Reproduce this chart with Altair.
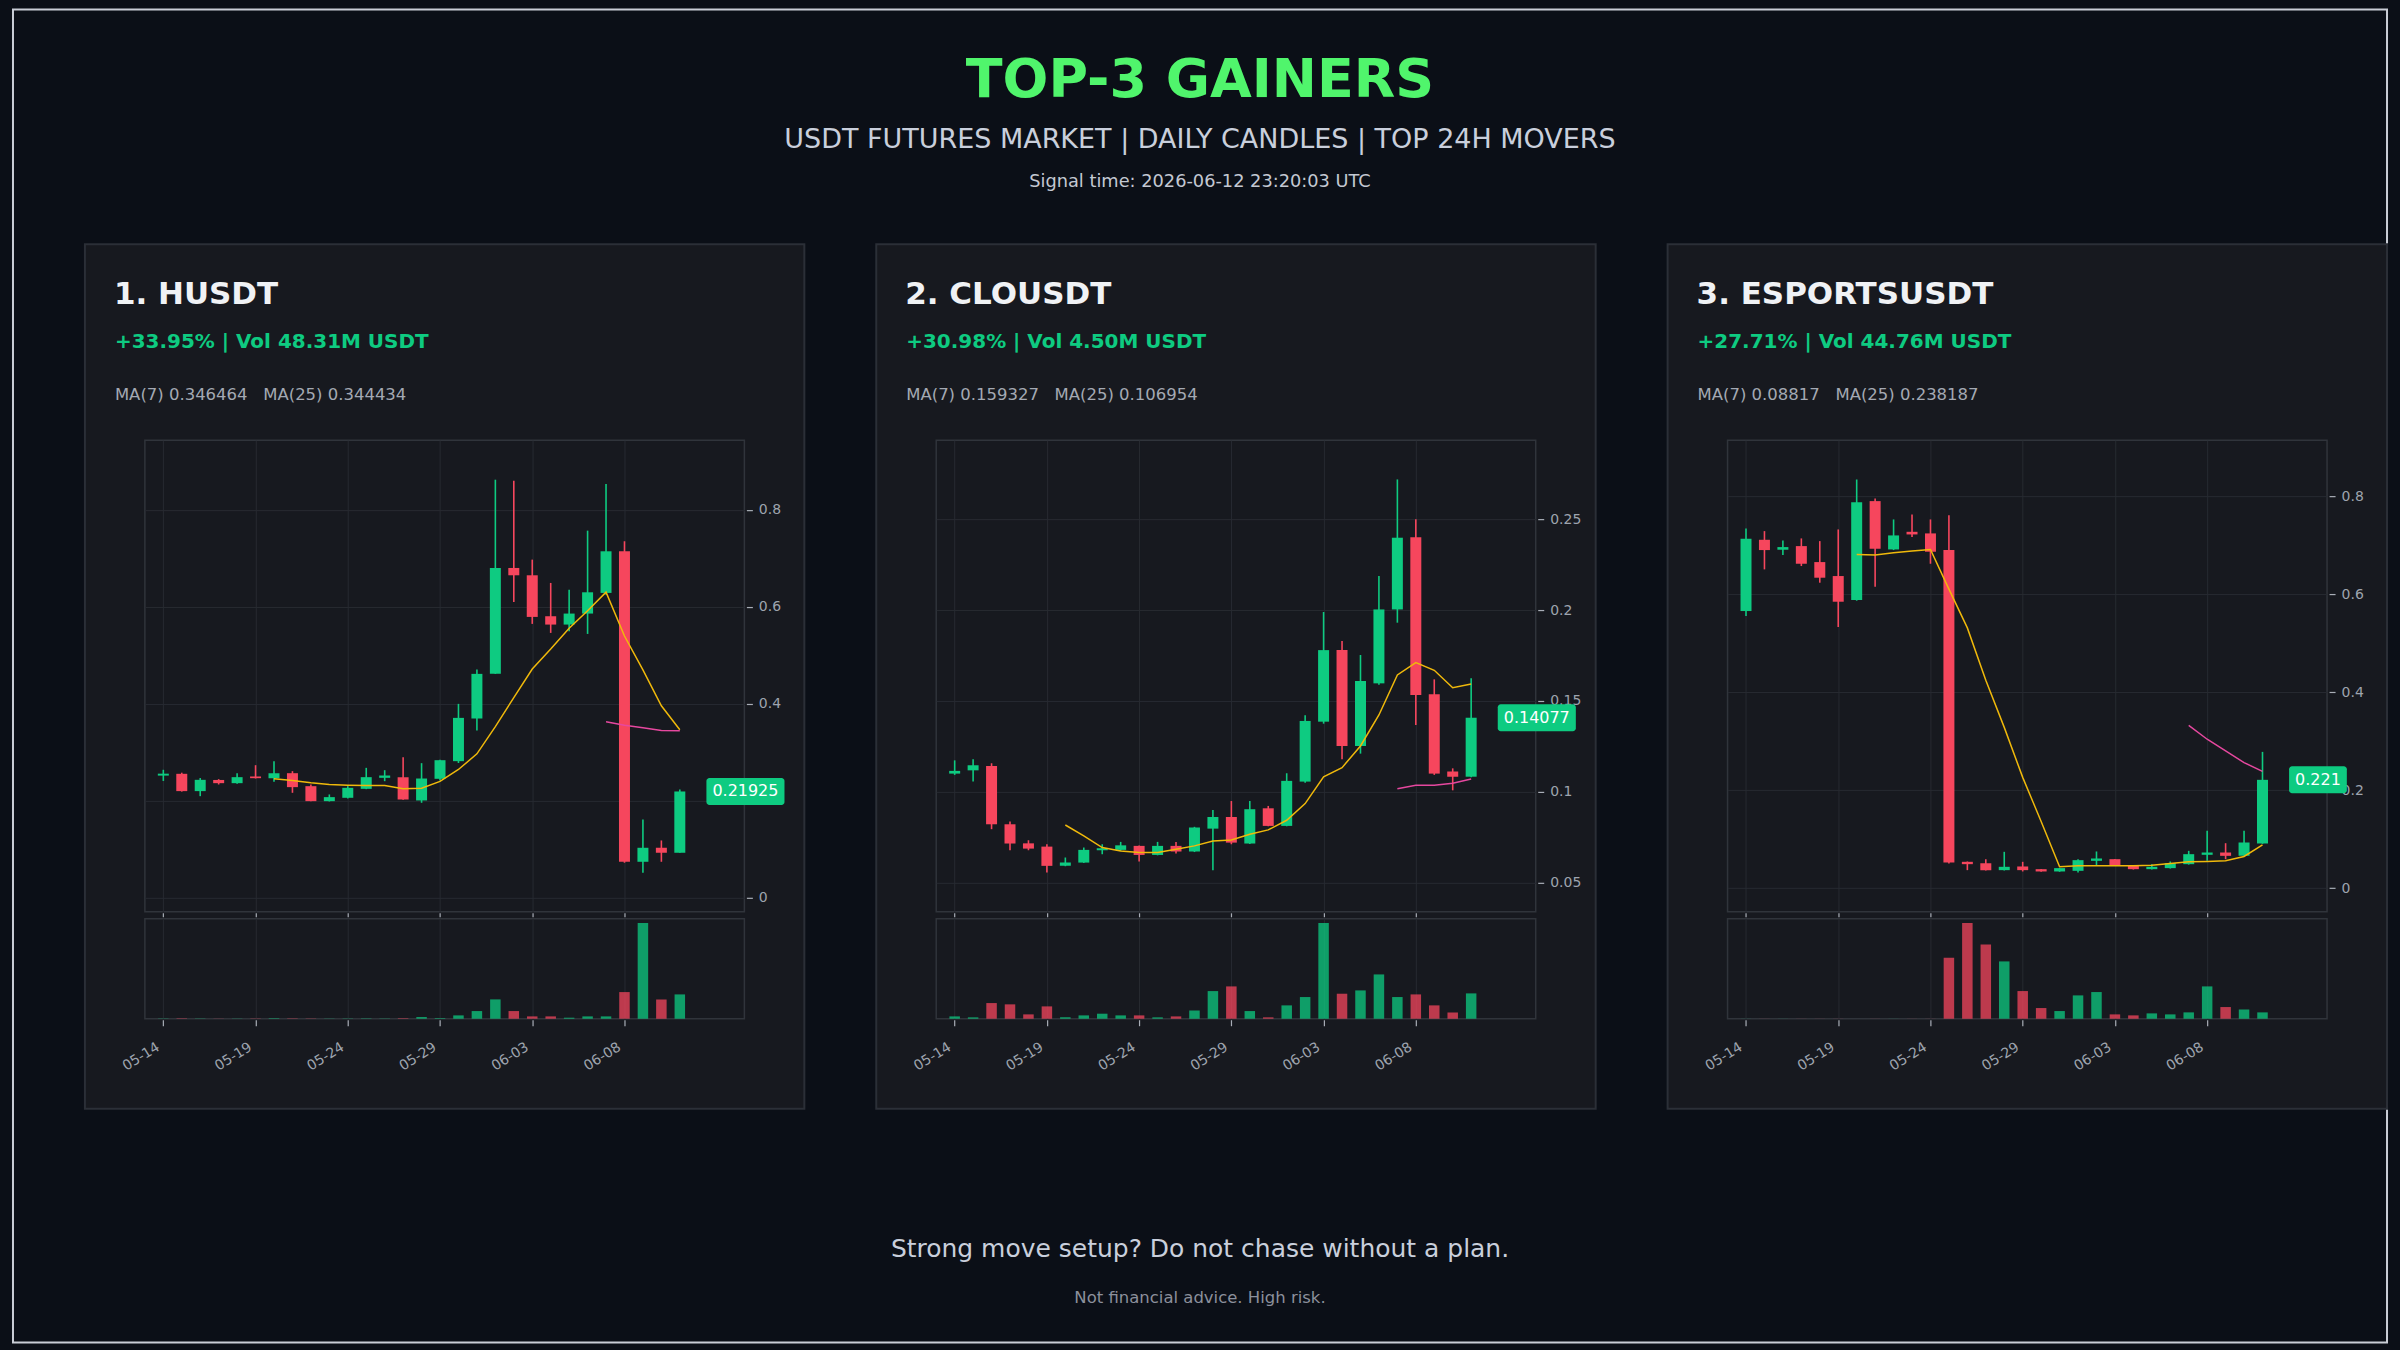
import altair as alt
import pandas as pd

# ---------------------------------------------------------------- data
DATES = ["05-14", "05-15", "05-16", "05-17", "05-18", "05-19", "05-20", "05-21", "05-22", "05-23",
         "05-24", "05-25", "05-26", "05-27", "05-28", "05-29", "05-30", "05-31", "06-01", "06-02",
         "06-03", "06-04", "06-05", "06-06", "06-07", "06-08", "06-09", "06-10", "06-11"]
TICK_IDX = [0, 5, 10, 15, 20, 25]

SYMBOLS = ["1. HUSDT", "2. CLOUSDT", "3. ESPORTSUSDT"]
CHANGES = ["+33.95%", "+30.98%", "+27.71%"]
VOL_24H = ["48.31M", "4.50M", "44.76M"]
MA7_LAST = ["0.346464", "0.159327", "0.08817"]
MA25_LAST = ["0.344434", "0.106954", "0.238187"]
LAST_LABEL = ["0.21925", "0.14077", "0.221"]

TITLE = "TOP-3 GAINERS"
SUBTITLE = "USDT FUTURES MARKET | DAILY CANDLES | TOP 24H MOVERS"
SIGNAL = "Signal time: 2026-06-12 23:20:03 UTC"
FOOTER = "Strong move setup? Do not chase without a plan."
DISCLAIMER = "Not financial advice. High risk."

# HUSDT
H_OPEN = [0.252, 0.2557, 0.220, 0.243, 0.2364, 0.2502, 0.2467, 0.257, 0.2302, 0.1993,
          0.2062, 0.2247, 0.2474, 0.2488, 0.2007, 0.2454, 0.2818, 0.3698, 0.4619, 0.6804,
          0.6653, 0.5808, 0.5636, 0.5863, 0.6289, 0.7148, 0.0742, 0.1031, 0.0928]
H_HIGH = [0.264, 0.258, 0.247, 0.2447, 0.257, 0.2735, 0.2818, 0.2612, 0.2337, 0.2131,
          0.2302, 0.268, 0.2632, 0.290, 0.2777, 0.2845, 0.400, 0.4708, 0.8625, 0.8605,
          0.6976, 0.6495, 0.6357, 0.7574, 0.8536, 0.7354, 0.1615, 0.1182, 0.2234]
H_LOW = [0.241, 0.219, 0.2096, 0.2337, 0.235, 0.246, 0.2392, 0.2165, 0.199, 0.1986,
         0.2048, 0.224, 0.2405, 0.202, 0.1959, 0.242, 0.278, 0.345, 0.4619, 0.6103,
         0.565, 0.5464, 0.5498, 0.5443, 0.625, 0.072, 0.0515, 0.0742, 0.0928]
H_CLOSE = [0.256, 0.220, 0.2433, 0.2364, 0.2488, 0.2467, 0.257, 0.2282, 0.1993, 0.2076,
           0.2268, 0.2488, 0.2522, 0.2027, 0.246, 0.2838, 0.3711, 0.4619, 0.6804, 0.6653,
           0.5794, 0.5636, 0.5863, 0.6302, 0.7148, 0.0742, 0.1031, 0.0928, 0.21925]
H_VOL = [0.5, 0.8, 0.5, 0.3, 0.4, 0.5, 0.7, 0.7, 0.5, 0.4,
         0.5, 0.7, 0.5, 1.0, 3.3, 1.2, 6.6, 15.2, 38.4, 15.2,
         4.6, 4.6, 2.0, 4.6, 4.6, 52.9, 190.0, 38.4, 48.31]
H_MA7 = [None, None, None, None, None, None, 0.2454, 0.2419, 0.2371, 0.2337,
         0.2323, 0.2316, 0.2316, 0.2247, 0.2261, 0.2400, 0.2646, 0.2969, 0.3530, 0.4130,
         0.4720, 0.5130, 0.5560, 0.5920, 0.6305, 0.5400, 0.4700, 0.3960, 0.3465]
H_MA25 = [None] * 24 + [0.3629, 0.3560, 0.3505, 0.3450, 0.3444]

# CLOUSDT
C_OPEN = [0.1100, 0.1118, 0.1142, 0.0821, 0.0716, 0.0698, 0.0592, 0.0610, 0.0678, 0.0680,
          0.0702, 0.0652, 0.0702, 0.0671, 0.0797, 0.0861, 0.0715, 0.0909, 0.0812, 0.1056,
          0.1386, 0.1780, 0.1252, 0.1597, 0.2004, 0.2402, 0.1537, 0.1111, 0.1083]
C_HIGH = [0.1173, 0.1179, 0.1157, 0.0836, 0.0733, 0.0711, 0.0638, 0.0693, 0.0711, 0.0724,
          0.0704, 0.0724, 0.0724, 0.0807, 0.0900, 0.0949, 0.0949, 0.0922, 0.1102, 0.1421,
          0.1990, 0.1830, 0.1753, 0.2188, 0.2720, 0.2500, 0.1619, 0.1129, 0.1625]
C_LOW = [0.1093, 0.1056, 0.0794, 0.0678, 0.0678, 0.0555, 0.0590, 0.0608, 0.0656, 0.0675,
         0.0616, 0.0650, 0.0660, 0.0668, 0.0568, 0.0711, 0.0713, 0.0810, 0.0810, 0.1050,
         0.1375, 0.1179, 0.1210, 0.1590, 0.1931, 0.1368, 0.1093, 0.1008, 0.1080]
C_CLOSE = [0.1115, 0.1146, 0.0821, 0.0715, 0.0687, 0.0592, 0.0610, 0.0680, 0.0689, 0.0705,
           0.0652, 0.0702, 0.0671, 0.0803, 0.0861, 0.0720, 0.0904, 0.0812, 0.1060, 0.1390,
           0.1780, 0.1252, 0.1610, 0.2004, 0.2399, 0.1533, 0.1100, 0.1083, 0.14077]
C_VOL = [0.41, 0.24, 2.78, 2.55, 0.77, 2.19, 0.24, 0.59, 0.89, 0.59,
         0.59, 0.24, 0.41, 1.48, 4.91, 5.74, 1.36, 0.24, 2.37, 3.85,
         16.99, 4.44, 5.03, 7.87, 3.85, 4.32, 2.37, 1.12, 4.50]
C_MA7 = [None, None, None, None, None, None, 0.0817, 0.0757, 0.0693, 0.0674,
         0.0665, 0.0665, 0.0683, 0.0702, 0.0729, 0.0735, 0.0766, 0.0790, 0.0843, 0.0935,
         0.1082, 0.1133, 0.1252, 0.1423, 0.1643, 0.1711, 0.1669, 0.1573, 0.1593]
C_MA25 = [None] * 24 + [0.1017, 0.1036, 0.1036, 0.1047, 0.1070]

# ESPORTSUSDT
E_OPEN = [0.5654, 0.7108, 0.6905, 0.6979, 0.6653, 0.6368, 0.5878, 0.7897, 0.6911, 0.7271,
          0.7238, 0.6898, 0.0537, 0.0510, 0.0367, 0.0442, 0.0387, 0.0340, 0.0353, 0.0557,
          0.0591, 0.0455, 0.0387, 0.0408, 0.0489, 0.0680, 0.0727, 0.0659, 0.0911]
E_HIGH = [0.7339, 0.7285, 0.7095, 0.7136, 0.7081, 0.7319, 0.8338, 0.7951, 0.7523, 0.7625,
          0.7523, 0.7611, 0.0543, 0.0591, 0.0741, 0.0537, 0.0390, 0.0410, 0.0591, 0.0748,
          0.0595, 0.0460, 0.0489, 0.0544, 0.0761, 0.1169, 0.0917, 0.1169, 0.2780]
E_LOW = [0.5552, 0.6504, 0.6796, 0.6572, 0.6232, 0.5328, 0.5865, 0.6150, 0.6898, 0.7163,
         0.6619, 0.0503, 0.0367, 0.0360, 0.0360, 0.0340, 0.0335, 0.0333, 0.0319, 0.0455,
         0.0450, 0.0380, 0.0380, 0.0400, 0.0480, 0.0557, 0.0591, 0.0655, 0.0905]
E_CLOSE = [0.7129, 0.6898, 0.6959, 0.6619, 0.6334, 0.5844, 0.7876, 0.6925, 0.7197, 0.7217,
           0.6864, 0.0523, 0.0489, 0.0367, 0.0435, 0.0367, 0.0340, 0.0408, 0.0571, 0.0605,
           0.0455, 0.0387, 0.0435, 0.0510, 0.0693, 0.0727, 0.0659, 0.0931, 0.2210]
E_VOL = [0.5, 0.5, 0.5, 0.5, 0.5, 0.5, 0.5, 0.5, 0.5, 0.5,
         0.5, 431.1, 676.1, 525.4, 405.2, 195.5, 75.4, 54.2, 164.9, 188.5,
         30.6, 23.6, 37.7, 30.6, 44.8, 228.5, 82.5, 66.0, 44.76]
E_MA7 = [None, None, None, None, None, None, 0.6810, 0.6796, 0.6843, 0.6877,
         0.6911, 0.6100, 0.5310, 0.4240, 0.3280, 0.2260, 0.1360, 0.0435, 0.0455, 0.0455,
         0.0455, 0.0455, 0.0469, 0.0503, 0.0537, 0.0544, 0.0557, 0.0646, 0.0882]
E_MA25 = [None] * 24 + [0.3323, 0.3038, 0.2800, 0.2562, 0.2382]

PANELS = [
    dict(o=H_OPEN, h=H_HIGH, l=H_LOW, c=H_CLOSE, v=H_VOL, ma7=H_MA7, ma25=H_MA25),
    dict(o=C_OPEN, h=C_HIGH, l=C_LOW, c=C_CLOSE, v=C_VOL, ma7=C_MA7, ma25=C_MA25),
    dict(o=E_OPEN, h=E_HIGH, l=E_LOW, c=E_CLOSE, v=E_VOL, ma7=E_MA7, ma25=E_MA25),
]
Y_DOMAIN = [[-0.029, 0.944], [0.0339, 0.2936], [-0.0483, 0.914]]
Y_TICKS = [[0, 0.2, 0.4, 0.6, 0.8], [0.05, 0.1, 0.15, 0.2, 0.25], [0, 0.2, 0.4, 0.6, 0.8]]

# ---------------------------------------------------------------- style
FONT = "DejaVu Sans"
PAGE_BG = "#0b0f17"
PANEL_BG = "#17191f"
PANEL_BORDER = "#2b2f37"
FRAME = "#30343b"
GRID = "#272a31"
UP = "#0ecb81"
DOWN = "#f6465d"
MA7_COLOR = "#f0b90b"
MA25_COLOR = "#e6489f"
AXIS_TEXT = "#9ea4ae"
TICK_C = "#a9aeb7"

PLOT_W, PLOT_H, VOL_H, HEAD_H = 600, 472, 100, 189
COL_GAP, ROW_GAP = 192, 7
X_DOMAIN = [-1, 31.5]
VOL_PAD = 1.045

label_expr = ""
for t in TICK_IDX:
    label_expr += f"datum.value == {t} ? '{DATES[t]}' : "
label_expr += "''"

dir_cond = alt.condition("datum.close >= datum.open", alt.value(UP), alt.value(DOWN))


def x_enc(axis):
    return alt.X("idx:Q", title=None,
                 scale=alt.Scale(domain=X_DOMAIN, nice=False, zero=False, padding=0),
                 axis=axis)


def header_chart(i):
    one = pd.DataFrame({"k": [0]})
    backdrop = alt.Chart(one).mark_rect(
        color=PANEL_BG, stroke=PANEL_BORDER, strokeWidth=2
    ).encode(x=alt.value(-60), x2=alt.value(660), y=alt.value(0), y2=alt.value(865))
    df = pd.DataFrame({
        "sym": [SYMBOLS[i]],
        "chg": [f"{CHANGES[i]} | Vol {VOL_24H[i]} USDT"],
        "ma": [f"MA(7) {MA7_LAST[i]}\u00a0\u00a0\u00a0MA(25) {MA25_LAST[i]}"],
    })
    base = alt.Chart(df)
    sym = base.mark_text(align="left", baseline="alphabetic", fontSize=31, fontWeight="bold",
                         color="#f0f2f5").encode(x=alt.value(-31), y=alt.value(60), text="sym:N")
    chg = base.mark_text(align="left", baseline="alphabetic", fontSize=20, fontWeight="bold",
                         color=UP).encode(x=alt.value(-30), y=alt.value(104), text="chg:N")
    ma = base.mark_text(align="left", baseline="alphabetic", fontSize=16.5,
                        color="#a4a9b3").encode(x=alt.value(-30), y=alt.value(156), text="ma:N")
    layers = []
    if i == 0:
        border = alt.Chart(one).mark_rect(
            fillOpacity=0, stroke="#c9cdd6", strokeWidth=2
        ).encode(x=alt.value(-132), x2=alt.value(2244), y=alt.value(-235), y2=alt.value(1099))
        gdf = pd.DataFrame({"t": [TITLE, SUBTITLE, SIGNAL, FOOTER, DISCLAIMER]})
        g = alt.Chart(gdf)

        def gtext(txt, y, size, color, weight="normal"):
            return g.transform_filter(alt.datum.t == txt).mark_text(
                align="center", baseline="alphabetic", fontSize=size, fontWeight=weight,
                color=color).encode(x=alt.value(1056), y=alt.value(y), text="t:N")

        layers += [border,
                   gtext(TITLE, -147, 54, "#50f56c", "bold"),
                   gtext(SUBTITLE, -96, 27, "#c9cfdc"),
                   gtext(SIGNAL, -57, 17.8, "#c3c8d2"),
                   gtext(FOOTER, 1013, 25, "#c9cfdc"),
                   gtext(DISCLAIMER, 1060, 16.5, "#8b909c")]
    layers = [backdrop] + layers + [sym, chg, ma]
    return alt.layer(*layers).properties(
        width=PLOT_W, height=HEAD_H,
        view=alt.ViewBackground(fill="transparent", stroke="transparent"))


def candle_chart(i):
    p = PANELS[i]
    df = pd.DataFrame({"idx": list(range(len(p["o"]))), "open": p["o"], "high": p["h"],
                       "low": p["l"], "close": p["c"]})
    xaxis = alt.Axis(values=TICK_IDX, labels=False, grid=True, gridColor=GRID, gridWidth=1,
                     domain=False, tickSize=4, tickColor=TICK_C, tickWidth=1.2, offset=1)
    yaxis = alt.Axis(orient="right", values=Y_TICKS[i], format="~g", grid=True, gridColor=GRID,
                     gridWidth=1, domain=False, tickSize=6, tickColor=TICK_C, tickWidth=1.2,
                     offset=2, labelColor=AXIS_TEXT, labelFontSize=14, labelPadding=6,
                     labelFont=FONT)
    yscale = alt.Scale(domain=Y_DOMAIN[i], nice=False, zero=False)

    def y_enc(field):
        return alt.Y(f"{field}:Q", title=None, scale=yscale, axis=yaxis)

    base = alt.Chart(df)
    wick = base.mark_rule(strokeWidth=1.6).encode(x=x_enc(xaxis), y=y_enc("low"),
                                                  y2="high:Q", color=dir_cond)
    body = base.mark_bar(size=11).encode(x=x_enc(xaxis), y=y_enc("open"), y2="close:Q",
                                         color=dir_cond)
    ma7df = pd.DataFrame({"idx": list(range(len(p["ma7"]))), "ma": p["ma7"]}).dropna()
    ma25df = pd.DataFrame({"idx": list(range(len(p["ma25"]))), "ma": p["ma25"]}).dropna()
    ma7 = alt.Chart(ma7df).mark_line(color=MA7_COLOR, strokeWidth=1.5).encode(
        x=x_enc(xaxis), y=y_enc("ma"))
    ma25 = alt.Chart(ma25df).mark_line(color=MA25_COLOR, strokeWidth=1.5).encode(
        x=x_enc(xaxis), y=y_enc("ma"))

    lab = LAST_LABEL[i]
    nd = sum(ch.isdigit() for ch in lab)
    tag_w = 12 + 16 * (0.636 * nd + 0.318 * (len(lab) - nd))
    tag_color = UP if p["c"][-1] >= p["o"][-1] else DOWN
    tdf = pd.DataFrame({"close": [p["c"][-1]], "label": [lab]})
    tag = alt.Chart(tdf).mark_rect(color=tag_color, cornerRadius=3, yOffset=-13.5,
                                   y2Offset=13.5).encode(
        x=alt.value(PLOT_W - 38), x2=alt.value(PLOT_W - 38 + tag_w),
        y=y_enc("close"), y2="close:Q")
    tag_txt = alt.Chart(tdf).mark_text(align="left", baseline="middle", fontSize=16,
                                       color="#ffffff").encode(
        x=alt.value(PLOT_W - 32), y=y_enc("close"), text="label:N")
    return alt.layer(wick, body, ma7, ma25, tag, tag_txt).properties(
        width=PLOT_W, height=PLOT_H,
        view=alt.ViewBackground(fill="transparent", stroke=FRAME, strokeWidth=1.5))


def volume_chart(i):
    p = PANELS[i]
    df = pd.DataFrame({"idx": list(range(len(p["v"]))), "vol": p["v"], "open": p["o"],
                       "close": p["c"]})
    xaxis = alt.Axis(values=TICK_IDX, labelExpr=label_expr, labelAngle=-32, labelAlign="right",
                     labelBaseline="top", labelFontSize=14, labelColor=AXIS_TEXT,
                     labelFont=FONT, labelPadding=14, labelOffset=-9, labelOverlap=False,
                     labelFlush=False, grid=True, gridColor=GRID, gridWidth=1, domain=False,
                     tickSize=6, tickColor=TICK_C, tickWidth=1.2, offset=1)
    bars = alt.Chart(df).mark_bar(size=10.5, opacity=0.75).encode(
        x=x_enc(xaxis),
        y=alt.Y("vol:Q", axis=None,
                scale=alt.Scale(domain=[0, max(p["v"]) * VOL_PAD], nice=False)),
        color=dir_cond)
    return bars.properties(
        width=PLOT_W, height=VOL_H,
        view=alt.ViewBackground(fill="transparent", stroke=FRAME, strokeWidth=1.5))


charts = [header_chart(i) for i in range(3)] + [candle_chart(i) for i in range(3)] + \
         [volume_chart(i) for i in range(3)]

chart = alt.concat(
    *charts, columns=3, spacing={"row": ROW_GAP, "column": COL_GAP}, bounds="flush"
).properties(
    padding={"left": 11, "top": 7, "right": 11, "bottom": 7},
    background=PAGE_BG,
).configure(font=FONT).configure_text(font=FONT)

chart.save("out.html", embed_options={"renderer": "svg", "actions": False})
